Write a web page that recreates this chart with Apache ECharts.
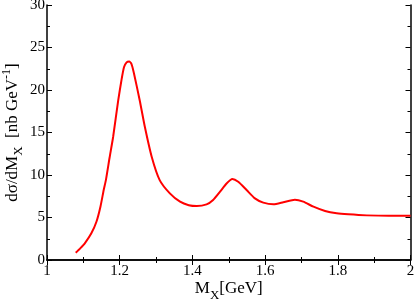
<!DOCTYPE html>
<html>
<head>
<meta charset="utf-8">
<script src="https://cdn.jsdelivr.net/npm/echarts@6/dist/echarts.min.js"></script>
<style>html,body{margin:0;padding:0;background:#fff}#c{width:415px;height:300px}</style>
</head>
<body>
<div id="c"></div>
<script>
var massX = [1.079, 1.092, 1.104, 1.122, 1.136, 1.147, 1.156, 1.162, 1.172, 1.182, 1.196, 1.205, 1.212, 1.219, 1.226, 1.232, 1.239, 1.255, 1.269, 1.288, 1.310, 1.338, 1.366, 1.390, 1.412, 1.439, 1.457, 1.476, 1.494, 1.510, 1.526, 1.549, 1.572, 1.595, 1.623, 1.650, 1.682, 1.705, 1.733, 1.765, 1.797, 1.829, 1.880, 1.940, 2.000];
var dsigma = [0.86, 1.4, 1.96, 3.14, 4.5, 6.27, 8.24, 9.4, 12.0, 14.5, 18.8, 21.2, 22.7, 23.25, 23.35, 23.1, 22.0, 18.8, 15.7, 12.15, 9.4, 7.84, 6.86, 6.45, 6.35, 6.55, 7.06, 8.04, 9.0, 9.53, 9.2, 8.24, 7.25, 6.75, 6.55, 6.79, 7.1, 6.86, 6.27, 5.76, 5.49, 5.37, 5.25, 5.2, 5.2];
var xTickLabels = ['1', '1.2', '1.4', '1.6', '1.8', '2'];
var yTickLabels = ['0', '5', '10', '15', '20', '25', '30'];

var chart = echarts.init(document.getElementById('c'));
var font = "'Liberation Serif', 'Times New Roman', serif";
var pts = massX.map(function (x, i) { return [x, dsigma[i]]; });
function xl(v) { var i = Math.round((v - 1) / 0.2); return xTickLabels[i] || ''; }
function yl(v) { var i = Math.round(v / 5); return yTickLabels[i] || ''; }
var axisLine = { show: true, lineStyle: { color: '#000', width: 1.5 } };
var tick = { show: true, inside: true, length: 5, lineStyle: { color: '#000', width: 1 } };
var minor = { show: true, splitNumber: 2, length: 3, lineStyle: { color: '#000', width: 1 } };
chart.setOption({
  animation: false,
  backgroundColor: '#fff',
  grid: { left: 47, right: 4.5, top: 5, bottom: 40, show: false, outerBoundsMode: 'none', containLabel: false },
  xAxis: [{
    type: 'value', min: 1, max: 2, interval: 0.2, position: 'bottom',
    axisLine: axisLine, axisTick: tick, minorTick: minor,
    splitLine: { show: false },
    axisLabel: { formatter: xl, fontFamily: font, fontSize: 15, color: '#000', margin: 4 },
    name: '{m|M}{s|X}{m|[GeV]}', nameLocation: 'middle', nameGap: 20, nameMoveOverlap: false,
    nameTextStyle: { rich: {
      m: { fontFamily: font, fontSize: 17, color: '#000', lineHeight: 22, verticalAlign: 'top' },
      s: { fontFamily: font, fontSize: 13, color: '#000', lineHeight: 22, verticalAlign: 'bottom' }
    } }
  }, {
    type: 'value', min: 1, max: 2, interval: 0.2, position: 'top',
    axisLine: axisLine, axisTick: tick, minorTick: minor,
    splitLine: { show: false }, axisLabel: { show: false }
  }],
  yAxis: [{
    type: 'value', min: 0, max: 30, interval: 5, position: 'left',
    axisLine: axisLine, axisTick: tick, minorTick: minor,
    splitLine: { show: false },
    axisLabel: { formatter: yl, fontFamily: font, fontSize: 15, color: '#000', margin: 2 },
    name: '{m|d\u03c3/dM}{s|X}{m|  [nb GeV}{p|-1}{m|]}', nameLocation: 'middle', nameGap: 22, nameRotate: 90, nameMoveOverlap: false,
    nameTextStyle: { rich: {
      m: { fontFamily: font, fontSize: 17, color: '#000', lineHeight: 24, verticalAlign: 'middle' },
      s: { fontFamily: font, fontSize: 13, color: '#000', lineHeight: 24, verticalAlign: 'bottom' },
      p: { fontFamily: font, fontSize: 12, color: '#000', lineHeight: 24, verticalAlign: 'top' }
    } }
  }, {
    type: 'value', min: 0, max: 30, interval: 5, position: 'right',
    axisLine: axisLine, axisTick: tick, minorTick: minor,
    splitLine: { show: false }, axisLabel: { show: false }
  }],
  series: [{
    type: 'line', data: pts, smooth: 0.2, showSymbol: false,
    lineStyle: { color: '#ff0000', width: 2 }, clip: true
  }]
});
</script>
</body>
</html>
